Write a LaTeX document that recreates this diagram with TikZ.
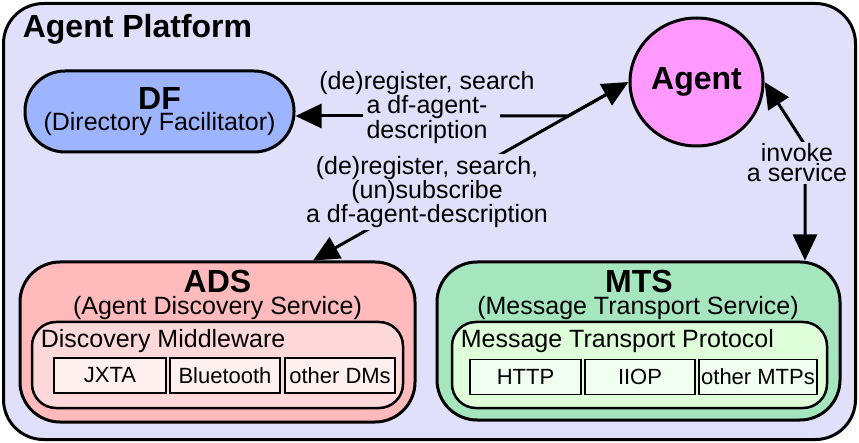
\documentclass[tikz,border=0pt]{standalone}
\usepackage{fontspec}
\setmainfont{Liberation Sans}
\usetikzlibrary{positioning,arrows.meta,shapes.geometric,calc}
\tikzset{>={Triangle[length=26pt,width=24pt]}}

\definecolor{platbg}{HTML}{E0E0FA}
\definecolor{dfblue}{HTML}{9DB4FF}
\definecolor{agentpink}{HTML}{FF99FF}
\definecolor{adsred}{HTML}{FFBBBB}
\definecolor{adsinner}{HTML}{FFD9D9}
\definecolor{adssub}{HTML}{FFF0F0}
\definecolor{mtsgreen}{HTML}{A6E6BF}
\definecolor{mtsinner}{HTML}{DEFFD9}
\definecolor{mtssub}{HTML}{F0FFF0}

\newcommand{\txtfont}{\fontsize{25}{20}\selectfont}
\newcommand{\ttlfont}{\fontsize{32}{21}\selectfont\bfseries}
\newcommand{\subfont}{\fontsize{22}{22}\selectfont}

\begin{document}
\begin{tikzpicture}[x=1pt, y=-1pt, line width=3pt,
  svc/.style={draw, line width=3pt, rounded corners=40pt, inner sep=0pt},
  mw/.style={draw, line width=2.5pt, rounded corners=24pt, inner sep=0pt},
  impl/.style={draw, line width=1.8pt, inner sep=0pt, minimum height=35pt, font=\subfont},
  lbl/.style={inner sep=2pt, align=center, font=\txtfont}]
  \useasboundingbox (0,0) rectangle (859,443);

  % agent platform
  \node[draw, fill=platbg, line width=3pt, rounded corners=40pt, minimum width=852pt, minimum height=436pt] (ap) at (429.5,221.5) {};
  \node[anchor=base west, font=\ttlfont] (aptitle) at (18,38) {Agent Platform};

  \node[svc, fill=dfblue, minimum width=269pt, minimum height=81pt, align=center, font=\fontsize{25}{21}\selectfont] (df) at (159.5,111.5) {{\ttlfont DF}\\(Directory Facilitator)};
  \node[ellipse, draw, fill=agentpink, minimum width=133pt, minimum height=128pt, inner sep=0pt, font=\ttlfont] (agent) at (696.5,82) {Agent};

  % ADS
  \node[svc, fill=adsred, minimum width=395pt, minimum height=160pt] (ads) at (217.5,342) {};
  \node[anchor=base, font=\ttlfont] (adsname) at (217.5,293) {ADS};
  \node[anchor=base, font=\txtfont] (adsfull) at (217.5,315) {(Agent Discovery Service)};
  \node[mw, fill=adsinner, minimum width=371pt, minimum height=86pt] (dm) at (217.5,365) {};
  \node[anchor=base west, font=\txtfont] (dmname) at (36,348) {Discovery Middleware};
  \node[impl, fill=adssub, minimum width=112pt] (jxta) at (110,375.5) {JXTA};
  \node[impl, fill=adssub, minimum width=110pt] (bt) at (225,375.5) {Bluetooth};
  \node[impl, fill=adssub, minimum width=110pt] (odm) at (340,375.5) {other DMs};

  % MTS
  \node[svc, fill=mtsgreen, minimum width=403pt, minimum height=158pt] (mts) at (638.5,341) {};
  \node[anchor=base, font=\ttlfont] (mtsname) at (639,293) {MTS};
  \node[anchor=base, font=\txtfont] (mtsfull) at (638,315) {(Message Transport Service)};
  \node[mw, fill=mtsinner, minimum width=375pt, minimum height=86pt] (mtp) at (639.5,365) {};
  \node[anchor=base west, font=\txtfont] (mtpname) at (456,348) {Message Transport Protocol};
  \node[impl, fill=mtssub, minimum width=111pt] (http) at (525.5,377) {HTTP};
  \node[impl, fill=mtssub, minimum width=110pt] (iiop) at (640,377) {IIOP};
  \node[impl, fill=mtssub, minimum width=118pt] (omtp) at (758,377) {other MTPs};

  % connectors
  \coordinate (bend) at (568,116);
  \coordinate (gapR) at (500,116);
  \coordinate (gapL) at (363,116);
  \coordinate (turn) at (805,145);
  \draw ($(agent.west)!20pt!(bend)$) -- (bend) -- (gapR);
  \draw[->] (gapL) -- (gapL -| df.east);
  \draw[<->] ($(ads.north)+(95.5,0)$) -- (agent.west);
  \draw[<->] (agent.east) -- (turn) -- (turn |- mts.north);

  \node[lbl] (reg) at (427,107.5) {(de)register, search\\a df-agent-\\description};
  \node[lbl, fill=platbg] (regsub) at (427,192) {(de)register, search,\\(un)subscribe\\a df-agent-description};
  \node[lbl, fill=platbg] (invoke) at (797,163) {invoke\\a service};
\end{tikzpicture}
\end{document}
